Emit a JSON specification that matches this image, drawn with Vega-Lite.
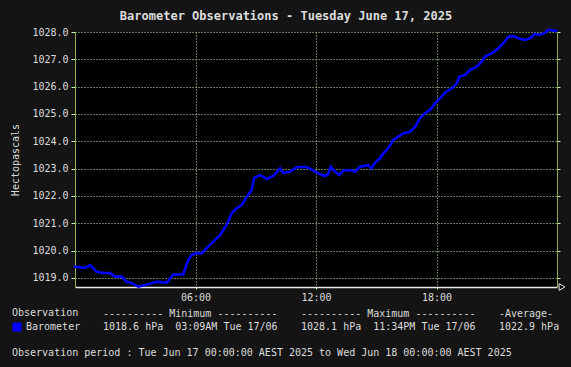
{
  "$schema": "https://vega.github.io/schema/vega-lite/v6.json",
  "width": 482,
  "height": 255,
  "autosize": {"type": "none"},
  "padding": {"left": 75, "top": 32, "right": 14, "bottom": 80},
  "background": "#141414",
  "title": {
    "text": "Barometer Observations - Tuesday June 17, 2025",
    "font": "DejaVu Sans Mono",
    "fontSize": 12,
    "fontWeight": "bold",
    "color": "#dddddd",
    "anchor": "middle",
    "dx": -30,
    "offset": 2
  },
  "config": {
    "view": {"fill": "#000000", "stroke": null},
    "font": "DejaVu Sans Mono"
  },
  "datasets": {
    "baro": [
      {"hour": 0, "hPa": 1019.41}, {"hour": 0.5, "hPa": 1019.37}, {"hour": 0.75, "hPa": 1019.47},
      {"hour": 1.08, "hPa": 1019.23}, {"hour": 1.39, "hPa": 1019.18}, {"hour": 1.74, "hPa": 1019.18},
      {"hour": 1.99, "hPa": 1019.05}, {"hour": 2.33, "hPa": 1019.05}, {"hour": 2.57, "hPa": 1018.86},
      {"hour": 2.82, "hPa": 1018.81}, {"hour": 3.15, "hPa": 1018.68}, {"hour": 3.49, "hPa": 1018.74},
      {"hour": 3.82, "hPa": 1018.81}, {"hour": 4.07, "hPa": 1018.86}, {"hour": 4.57, "hPa": 1018.83},
      {"hour": 4.89, "hPa": 1019.13}, {"hour": 5.39, "hPa": 1019.13}, {"hour": 5.64, "hPa": 1019.66},
      {"hour": 5.81, "hPa": 1019.84}, {"hour": 6.06, "hPa": 1019.92}, {"hour": 6.31, "hPa": 1019.9},
      {"hour": 6.56, "hPa": 1020.09}, {"hour": 6.89, "hPa": 1020.33}, {"hour": 7.22, "hPa": 1020.57},
      {"hour": 7.55, "hPa": 1020.94}, {"hour": 7.8, "hPa": 1021.37}, {"hour": 8.05, "hPa": 1021.55},
      {"hour": 8.3, "hPa": 1021.67}, {"hour": 8.55, "hPa": 1021.97}, {"hour": 8.8, "hPa": 1022.22},
      {"hour": 8.91, "hPa": 1022.65}, {"hour": 9.21, "hPa": 1022.77}, {"hour": 9.55, "hPa": 1022.62},
      {"hour": 9.87, "hPa": 1022.73}, {"hour": 10.21, "hPa": 1023.01}, {"hour": 10.37, "hPa": 1022.85},
      {"hour": 10.71, "hPa": 1022.89}, {"hour": 11.04, "hPa": 1023.05}, {"hour": 11.45, "hPa": 1023.07},
      {"hour": 11.7, "hPa": 1023.01}, {"hour": 11.95, "hPa": 1022.89}, {"hour": 12.2, "hPa": 1022.8},
      {"hour": 12.45, "hPa": 1022.73}, {"hour": 12.61, "hPa": 1022.8}, {"hour": 12.73, "hPa": 1023.07},
      {"hour": 12.95, "hPa": 1022.89}, {"hour": 13.16, "hPa": 1022.77}, {"hour": 13.36, "hPa": 1022.93},
      {"hour": 13.69, "hPa": 1022.95}, {"hour": 13.94, "hPa": 1022.89}, {"hour": 14.19, "hPa": 1023.07},
      {"hour": 14.6, "hPa": 1023.13}, {"hour": 14.77, "hPa": 1023.01}, {"hour": 14.94, "hPa": 1023.22},
      {"hour": 15.19, "hPa": 1023.38}, {"hour": 15.35, "hPa": 1023.56}, {"hour": 15.6, "hPa": 1023.74},
      {"hour": 15.85, "hPa": 1024.05}, {"hour": 16.1, "hPa": 1024.17}, {"hour": 16.35, "hPa": 1024.29},
      {"hour": 16.68, "hPa": 1024.35}, {"hour": 16.93, "hPa": 1024.53}, {"hour": 17.18, "hPa": 1024.84},
      {"hour": 17.43, "hPa": 1025.03}, {"hour": 17.68, "hPa": 1025.15}, {"hour": 17.93, "hPa": 1025.39},
      {"hour": 18.17, "hPa": 1025.57}, {"hour": 18.42, "hPa": 1025.78}, {"hour": 18.76, "hPa": 1025.94},
      {"hour": 19.01, "hPa": 1026.12}, {"hour": 19.14, "hPa": 1026.36}, {"hour": 19.42, "hPa": 1026.43},
      {"hour": 19.67, "hPa": 1026.61}, {"hour": 20.0, "hPa": 1026.73}, {"hour": 20.25, "hPa": 1026.91},
      {"hour": 20.42, "hPa": 1027.1}, {"hour": 20.75, "hPa": 1027.22}, {"hour": 21.08, "hPa": 1027.4},
      {"hour": 21.33, "hPa": 1027.59}, {"hour": 21.58, "hPa": 1027.83}, {"hour": 21.83, "hPa": 1027.85},
      {"hour": 22.07, "hPa": 1027.77}, {"hour": 22.41, "hPa": 1027.71}, {"hour": 22.66, "hPa": 1027.77},
      {"hour": 22.9, "hPa": 1027.93}, {"hour": 23.15, "hPa": 1027.89}, {"hour": 23.4, "hPa": 1027.97},
      {"hour": 23.57, "hPa": 1028.08}, {"hour": 23.95, "hPa": 1028.04}
    ]
  },
  "layer": [
    {
      "data": {"name": "baro"},
      "mark": {"type": "line", "strokeWidth": 2.6, "strokeCap": "square"},
      "encoding": {
        "x": {
          "field": "hour", "type": "quantitative",
          "scale": {"domain": [0, 24], "nice": false, "zero": false},
          "axis": {
            "values": [6, 12, 18],
            "labelExpr": "(datum.value < 10 ? '0' : '') + datum.value + ':00'",
            "title": null,
            "grid": true, "gridColor": "#c4f0b4", "gridDash": [1, 2], "gridOpacity": 1,
            "domainColor": "#e8e8e8", "domainWidth": 1.5,
            "tickColor": "#c4f0b4", "tickSize": 2,
            "labelColor": "#dddddd", "labelFont": "DejaVu Sans Mono", "labelFontSize": 10,
            "labelPadding": 3
          }
        },
        "y": {
          "field": "hPa", "type": "quantitative",
          "scale": {"domain": [1018.67, 1028], "nice": false, "zero": false},
          "axis": {
            "values": [1019, 1020, 1021, 1022, 1023, 1024, 1025, 1026, 1027, 1028],
            "format": ".1f",
            "title": "Hectopascals",
            "titleFont": "DejaVu Sans Mono", "titleFontSize": 10, "titleFontWeight": "normal",
            "titleColor": "#dddddd", "titlePadding": 11,
            "grid": true, "gridColor": "#c4f0b4", "gridDash": [1, 2], "gridOpacity": 1,
            "domainColor": "#9aab58",
            "tickColor": "#c4f0b4", "tickSize": 4,
            "labelColor": "#dddddd", "labelFont": "DejaVu Sans Mono", "labelFontSize": 10,
            "labelPadding": 3
          }
        },
        "color": {
          "datum": "Barometer",
          "scale": {"range": ["#0000ff"]},
          "legend": {
            "orient": "none", "legendX": -63, "legendY": 276,
            "title": "Observation",
            "titleFont": "DejaVu Sans Mono", "titleFontSize": 10, "titleFontWeight": "normal",
            "titleColor": "#dddddd", "titlePadding": 4,
            "labelFont": "DejaVu Sans Mono", "labelFontSize": 10, "labelColor": "#dddddd",
            "symbolType": "square", "symbolSize": 64,
            "encode": {"symbols": {"update": {"fill": {"value": "#0000ff"}, "stroke": {"value": "#999999"}, "strokeWidth": {"value": 1}}}}
          }
        }
      }
    },
    {
      "data": {"values": [{}]},
      "mark": {"type": "point", "shape": "triangle-right", "filled": true, "fill": "#000000", "stroke": "#eeeeee", "strokeWidth": 1, "size": 45, "opacity": 1},
      "encoding": {
        "x": {"datum": 24.25, "type": "quantitative", "axis": null},
        "y": {
          "datum": 1018.67, "type": "quantitative",
          "scale": {"domain": [1018.67, 1028], "nice": false, "zero": false},
          "axis": {
            "orient": "right",
            "values": [1019, 1020, 1021, 1022, 1023, 1024, 1025, 1026, 1027, 1028],
            "labels": false, "title": null, "grid": false,
            "domainColor": "#9aab58", "tickColor": "#c4f0b4", "tickSize": 3
          }
        }
      }
    },
    {
      "data": {"values": [{}]},
      "mark": {"type": "text", "align": "left", "baseline": "top", "lineBreak": "\n", "lineHeight": 13, "font": "DejaVu Sans Mono", "fontSize": 10, "color": "#dddddd",
        "text": "---------- Minimum ----------\n1018.6 hPa \u00a003:09AM Tue 17/06"},
      "encoding": {
        "x": {"datum": 1.394, "type": "quantitative", "axis": null},
        "y": {"datum": 1017.87, "type": "quantitative", "axis": null}
      }
    },
    {
      "data": {"values": [{}]},
      "mark": {"type": "text", "align": "left", "baseline": "top", "lineBreak": "\n", "lineHeight": 13, "font": "DejaVu Sans Mono", "fontSize": 10, "color": "#dddddd",
        "text": "---------- Maximum ----------\n1028.1 hPa \u00a011:34PM Tue 17/06"},
      "encoding": {
        "x": {"datum": 11.253, "type": "quantitative", "axis": null},
        "y": {"datum": 1017.87, "type": "quantitative", "axis": null}
      }
    },
    {
      "data": {"values": [{}]},
      "mark": {"type": "text", "align": "left", "baseline": "top", "lineBreak": "\n", "lineHeight": 13, "font": "DejaVu Sans Mono", "fontSize": 10, "color": "#dddddd",
        "text": "-Average-\n1022.9 hPa"},
      "encoding": {
        "x": {"datum": 21.11, "type": "quantitative", "axis": null},
        "y": {"datum": 1017.87, "type": "quantitative", "axis": null}
      }
    },
    {
      "data": {"values": [{}]},
      "mark": {"type": "text", "align": "left", "baseline": "middle", "font": "DejaVu Sans Mono", "fontSize": 10, "color": "#dddddd",
        "text": "Observation period : Tue Jun 17 00:00:00 AEST 2025 to Wed Jun 18 00:00:00 AEST 2025"},
      "encoding": {
        "x": {"datum": -3.137, "type": "quantitative", "axis": null},
        "y": {"datum": 1016.255, "type": "quantitative", "axis": null}
      }
    }
  ],
  "resolve": {"axis": {"x": "independent", "y": "independent"}}
}
